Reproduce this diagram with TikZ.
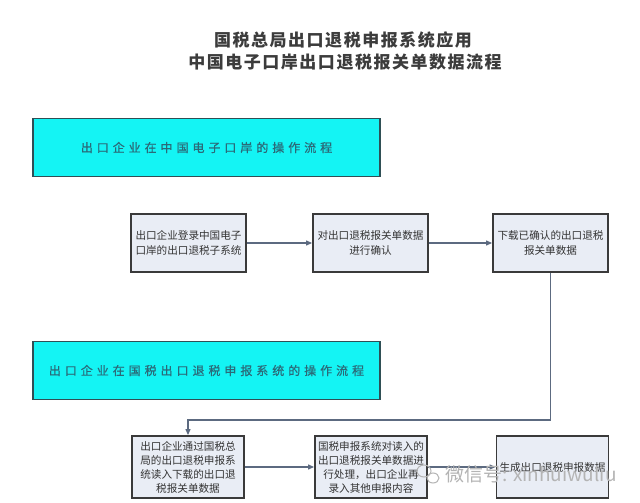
\documentclass[tikz,border=0pt]{standalone}
\usepackage{fontspec}
\setmainfont{Noto Sans CJK SC}
\newfontfamily\cjk{Noto Sans CJK SC}
\newfontfamily\cjkwide[LetterSpace=33,FakeBold=0.6]{Noto Sans CJK SC}
\newfontfamily\cjktitle[LetterSpace=9]{Noto Sans CJK SC}
\usetikzlibrary{arrows.meta}
\definecolor{boxfill}{HTML}{E9EDF5}
\definecolor{boxline}{HTML}{3A3A3A}
\definecolor{cyanfill}{HTML}{14F4F4}
\definecolor{cyanline}{HTML}{2F4F55}
\definecolor{cyantext}{HTML}{2B6A78}
\definecolor{conn}{HTML}{5C6A80}
\definecolor{titlegray}{HTML}{3C3C3C}
\definecolor{wmgray}{HTML}{B4B4B4}
\tikzset{
  stepbox/.style={draw=boxline, line width=1.8pt, fill=boxfill, inner sep=0pt,
    minimum width=115pt, minimum height=58pt, align=center,
    font=\cjk\fontsize{10.6}{15}\selectfont, text=black!80},
  stepboxb/.style={stepbox, minimum width=112pt, minimum height=62pt,
    font=\cjk\fontsize{10.6}{14}\selectfont},
  phasebox/.style={draw=cyanline, line width=1.2pt, fill=cyanfill, inner sep=0pt,
    minimum width=347pt, minimum height=58pt,
    font=\cjkwide\fontsize{12}{14}\selectfont, text=cyantext},
  titletext/.style={font=\cjktitle\bfseries\fontsize{17}{20}\selectfont, text=titlegray},
  flow/.style={draw=conn, line width=1.1pt, -{Triangle[length=6pt,width=5pt]}},
}
\begin{document}
\begin{tikzpicture}[x=1pt,y=-1pt]
\useasboundingbox (0,0) rectangle (640,503);
\fill[white] (0,0) rectangle (640,503);
% titles
\node[titletext] (t1) at (343,40) {国税总局出口退税申报系统应用};
\node[titletext] (t2) at (345,62) {中国电子口岸出口退税报关单数据流程};
% phase boxes
\node[phasebox] (p1) at (206.5,147.5) {出口企业在中国电子口岸的操作流程};
\node[phasebox] (p2) at (206.5,370.5) {出口企业在国税出口退税申报系统的操作流程};
% row 1
\node[stepbox] (a) at (188.5,243) {出口企业登录中国电子\\口岸的出口退税子系统};
\node[stepbox] (b) at (370.5,243) {对出口退税报关单数据\\进行确认};
\node[stepbox] (c) at (550.5,243) {下载已确认的出口退税\\报关单数据};
% row 2
\node[stepboxb] (d) at (188,467) {出口企业通过国税总\\局的出口退税申报系\\统读入下载的出口退\\税报关单数据};
\node[stepboxb] (e) at (371,467) {国税申报系统对读入的\\出口退税报关单数据进\\行处理，出口企业再\\录入其他申报内容};
\node[stepboxb] (f) at (552.5,467) {生成出口退税申报数据};
% connectors
\draw[flow] (a) -- (b);
\draw[flow] (b) -- (c);
\coordinate (k1) at (c.south |- 0,420);
\coordinate (k2) at (d.north |- 0,420);
\draw[flow] (c.south) -- (k1) -- (k2) -- (d.north);
\draw[flow] (d) -- (e);
\draw[flow] (e) -- (f);
% watermark
\draw[wmgray, line width=1pt] (424,471) ellipse (7pt and 6pt);
\draw[wmgray, line width=1pt] (433,478) ellipse (6pt and 5pt);
\node[font=\cjk\fontsize{19}{20}\selectfont, text=wmgray, anchor=west, inner sep=0pt] (wm) at (445,474) {微信号: xinhuiwuliu};
\end{tikzpicture}
\end{document}
